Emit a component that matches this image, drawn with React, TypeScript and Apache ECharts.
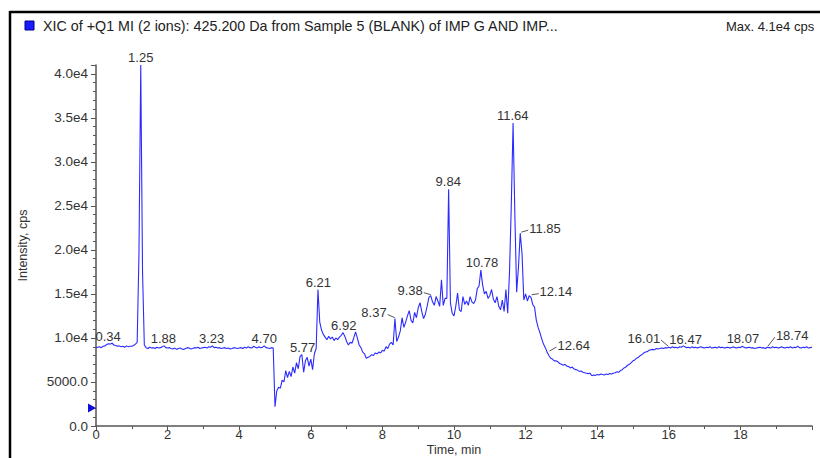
import React, { useEffect, useRef } from "react";
import * as echarts from "echarts";

// ---------------- data ----------------
const TITLE_TEXT = "XIC of +Q1 MI (2 ions): 425.200 Da from Sample 5 (BLANK) of IMP G AND IMP...";
const MAX_TEXT = "Max. 4.1e4 cps";
const X_NAME = "Time, min";
const Y_NAME = "Intensity, cps";

const X_MIN = 0;
const X_MAX = 20;
const X_INTERVAL = 2;
const Y_MIN = 0;
const Y_MAX = 41000;
const Y_INTERVAL = 5000;

// sampling of the trace (minutes)
const SAMPLE_STEP = 0.05;

// intensity (cps) every 0.05 min, one row per minute
const INTENSITY: number[] = [
  // 0
  8900, 8950, 9000, 8900, 9050, 9100, 9250, 9350, 9300, 9400, 9200, 9150, 9050, 9100, 9000, 9050, 8950, 9100, 9000, 9050,
  // 1
  9050, 9150, 9300, 9500, 19500, 41000, 17500, 9200, 8900, 8800, 8950, 8850, 8900, 8800, 8950, 8850, 8900, 9000, 9100, 8900,
  // 2
  8850, 8900, 8800, 8750, 8850, 8700, 8800, 8850, 8750, 8700, 8800, 8900, 8850, 8750, 8800, 8900, 8850, 8950, 8800, 8850,
  // 3
  8900, 8950, 8850, 9000, 8950, 9100, 8900, 8950, 8850, 8900, 8800, 8850, 8900, 8800, 8850, 8750, 8800, 8900, 8850, 8800,
  // 4
  8850, 8900, 8800, 8950, 8850, 9000, 8900, 8850, 9050, 8950, 8850, 9000, 8900, 8950, 9100, 8900, 8850, 8800, 8900, 8850,
  // 5
  2200, 4000, 4400, 4300, 5200, 5000, 6300, 5500, 6200, 5600, 6700, 6000, 7200, 6500, 7900, 8100, 6100, 7400, 7800, 6800,
  // 6
  7600, 6400, 8200, 8800, 15500, 11800, 10900, 10400, 10100, 9800, 10200, 9900, 10100, 9700, 10000, 9800, 10100, 10300, 10600, 10200,
  // 7
  9600, 9200, 9500, 9400, 10000, 10700, 10000, 9200, 8900, 8400, 8200, 7700, 7800, 7900, 8100, 8000, 8300, 8200, 8400, 8300,
  // 8
  8600, 8500, 9000, 8800, 9300, 9500, 9200, 12200, 9600, 10100, 10800, 12300, 11200, 11800, 12500, 13100, 12000, 11700, 12900, 12300,
  // 9
  13400, 14000, 13000, 12200, 12700, 13600, 14600, 14800, 14100, 13700, 14700, 14200, 13600, 16600, 13700, 14500, 14500, 26900, 14000, 12800,
  // 10
  12500, 13600, 15100, 13200, 13000, 14700, 13800, 14200, 13700, 14700, 14100, 13900, 14300, 15600, 15900, 17700, 16000, 15000, 15300, 14500,
  // 11
  14800, 15500, 14400, 14000, 14700, 13600, 13200, 14300, 13000, 15500, 12800, 17400, 25000, 34400, 24000, 15200, 18000, 21900, 19600, 14300,
  // 12
  15000, 14200, 14800, 14600, 13800, 13500, 12000, 11200, 10600, 9900, 9300, 8900, 8400, 8000, 7700, 7600, 7400, 7400, 7300, 7100,
  // 13
  7000, 6900, 7000, 6800, 6750, 6600, 6700, 6500, 6400, 6350, 6200, 6250, 6100, 6050, 6000, 5950, 6000, 5700, 5800, 5750,
  // 14
  5850, 5800, 5900, 5850, 5800, 5900, 5850, 5950, 5900, 6000, 6050, 6150, 6100, 6300, 6400, 6600, 6700, 6900, 7000, 7200,
  // 15
  7400, 7500, 7700, 7800, 8000, 8100, 8300, 8400, 8450, 8600, 8650, 8700, 8650, 8800, 8750, 8800, 8850, 8800, 8900, 8850,
  // 16
  8950, 8850, 9000, 8900, 8950, 8850, 9000, 8950, 9100, 9000, 8900, 8950, 8850, 9000, 8900, 8950, 8850, 8950, 9000, 8900,
  // 17
  8850, 8950, 8900, 9000, 8850, 8900, 8950, 8850, 9000, 8900, 8950, 8850, 8900, 8950, 8850, 8900, 9000, 8900, 8850, 8950,
  // 18
  8900, 9050, 8950, 8850, 8900, 8950, 8850, 8900, 8800, 8850, 8900, 8950, 8850, 8900, 8800, 8950, 8900, 8850, 9000, 8900,
  // 19
  8950, 8850, 8900, 9000, 8900, 8850, 8950, 8900, 9000, 8850, 8950, 8900, 9050, 8900, 8850, 8950, 8900, 9000, 8850, 8900,
  // 20
  8950,
];

// labelled peak apexes (min)
const PEAK_TIMES: number[] = [
  0.34, 1.25, 1.88, 3.23, 4.7, 5.77, 6.21, 6.92, 8.37, 9.38, 9.84, 10.78, 11.64, 11.85, 12.14, 12.64, 16.01, 16.47, 18.07, 18.74,
];
const PEAK_LABELS: string[] = [
  "0.34", "1.25", "1.88", "3.23", "4.70", "5.77", "6.21", "6.92", "8.37", "9.38", "9.84", "10.78", "11.64", "11.85", "12.14", "12.64", "16.01", "16.47", "18.07", "18.74",
];

// level of the small marker on the intensity axis
const MARKER_LEVEL = 2050;

// ---------------- styles ----------------
const FONT_FAMILY = '"Liberation Sans", Arial, Helvetica, sans-serif';
const TRACE_COLOR = "#2b2bff";
const TEXT_COLOR = "#333333";
const AXIS_COLOR = "#555555";

type Placement = { side: "top" | "left" | "right"; dy: number };
const LABEL_PLACEMENT: Record<string, Placement> = {
  "8.37": { side: "left", dy: -6 },
  "9.38": { side: "left", dy: -5 },
  "11.85": { side: "right", dy: -5 },
  "12.14": { side: "right", dy: -4 },
  "12.64": { side: "right", dy: -7 },
  "16.01": { side: "left", dy: -9 },
  "18.74": { side: "right", dy: -12 },
};

function formatIntensity(v: number): string {
  if (v % Y_INTERVAL !== 0) return "";
  if (v === 0) return "0.0";
  if (v < 10000) return v.toFixed(1);
  return (v / 10000).toFixed(1) + "e4";
}

export default function App() {
  const ref = useRef<HTMLDivElement>(null);

  useEffect(() => {
    if (!ref.current) return;
    const chart = echarts.init(ref.current, undefined, { renderer: "svg" });

    const trace = INTENSITY.map((v, i) => [Number((i * SAMPLE_STEP).toFixed(2)), v]);
    const apex = PEAK_TIMES.map((t, i) => {
      let best = 0;
      trace.forEach(([tt, v]) => {
        if (Math.abs(tt - t) < SAMPLE_STEP && v > best) best = v;
      });
      return [t, best, i];
    });

    const labelFont = `13px ${FONT_FAMILY}`;

    chart.setOption({
      animation: false,
      backgroundColor: "#ffffff",
      textStyle: { fontFamily: FONT_FAMILY },
      grid: { left: 96, right: 8, top: 65, bottom: 32, containLabel: false, outerBoundsMode: "none" },
      xAxis: {
        type: "value",
        min: X_MIN,
        max: X_MAX,
        interval: X_INTERVAL,
        name: X_NAME,
        nameLocation: "middle",
        nameGap: 17,
        nameMoveOverlap: false,
        nameTextStyle: { fontSize: 12.5, color: TEXT_COLOR, fontFamily: FONT_FAMILY },
        axisLine: { show: true, onZero: false, lineStyle: { color: AXIS_COLOR, width: 1.5 } },
        axisTick: { show: true, length: 4, lineStyle: { color: AXIS_COLOR } },
        minorTick: { show: true, splitNumber: 2, length: 3, lineStyle: { color: AXIS_COLOR } },
        axisLabel: { margin: 2, fontSize: 13, color: TEXT_COLOR, fontFamily: FONT_FAMILY, showMaxLabel: false },
        splitLine: { show: false },
      },
      yAxis: {
        type: "value",
        min: Y_MIN,
        max: Y_MAX,
        interval: Y_INTERVAL,
        name: Y_NAME,
        nameLocation: "middle",
        nameGap: 67,
        nameMoveOverlap: false,
        nameTextStyle: { fontSize: 12.5, color: TEXT_COLOR, fontFamily: FONT_FAMILY },
        axisLine: { show: true, onZero: false, lineStyle: { color: AXIS_COLOR, width: 1.5 } },
        axisTick: { show: true, length: 5, lineStyle: { color: AXIS_COLOR } },
        minorTick: { show: true, splitNumber: 5, length: 3, lineStyle: { color: AXIS_COLOR } },
        axisLabel: {
          margin: 8,
          fontSize: 13.5,
          color: TEXT_COLOR,
          fontFamily: FONT_FAMILY,
          showMaxLabel: false,
          formatter: (v: number) => formatIntensity(v),
        },
        splitLine: { show: false },
      },
      series: [
        {
          type: "line",
          data: trace,
          showSymbol: false,
          symbol: "none",
          lineStyle: { color: TRACE_COLOR, width: 1.1 },
          itemStyle: { color: TRACE_COLOR },
          clip: true,
          markPoint: {
            silent: true,
            symbol: "triangle",
            symbolRotate: -90,
            symbolSize: [9, 8],
            symbolOffset: [-4, 0],
            itemStyle: { color: "#1010d0" },
            label: { show: false },
            data: [{ coord: [X_MIN, MARKER_LEVEL] }],
          },
        },
        {
          type: "custom",
          coordinateSystem: "cartesian2d",
          silent: true,
          clip: false,
          data: apex,
          encode: { x: 0, y: 1 },
          renderItem: (params: any, api: any) => {
            const idx = params.dataIndex;
            const p = api.coord([api.value(0), api.value(1)]);
            const text = PEAK_LABELS[idx];
            const place = LABEL_PLACEMENT[text] ?? { side: "top", dy: 0 };
            const children: any[] = [];
            if (place.side === "top") {
              children.push({
                type: "text",
                x: p[0],
                y: p[1] - 1,
                style: {
                  text,
                  font: labelFont,
                  fill: TEXT_COLOR,
                  align: "center",
                  verticalAlign: "bottom",
                  textAlign: "center",
                  textVerticalAlign: "bottom",
                },
              });
            } else {
              const dir = place.side === "right" ? 1 : -1;
              const tx = p[0] + dir * 9;
              const ty = p[1] + place.dy;
              children.push({
                type: "line",
                shape: { x1: p[0] + dir * 1, y1: p[1] - 1, x2: tx - dir * 1, y2: ty + 2 },
                style: { stroke: AXIS_COLOR, lineWidth: 1 },
              });
              children.push({
                type: "text",
                x: tx,
                y: ty,
                style: {
                  text,
                  font: labelFont,
                  fill: TEXT_COLOR,
                  align: dir > 0 ? "left" : "right",
                  verticalAlign: "middle",
                  textAlign: dir > 0 ? "left" : "right",
                  textVerticalAlign: "middle",
                },
              });
            }
            return { type: "group", children };
          },
        },
      ],
      graphic: [
        {
          type: "line",
          silent: true,
          shape: { x1: 10, y1: 12, x2: 820, y2: 12 },
          style: { stroke: "#000000", lineWidth: 2.5 },
        },
        {
          type: "line",
          silent: true,
          shape: { x1: 10, y1: 11, x2: 10, y2: 458 },
          style: { stroke: "#000000", lineWidth: 2.5 },
        },
        {
          type: "rect",
          silent: true,
          shape: { x: 25, y: 21, width: 9, height: 9 },
          style: { fill: "#1a1aff", stroke: "#000088", lineWidth: 1 },
        },
        {
          type: "text",
          silent: true,
          x: 43,
          y: 26,
          style: {
            text: TITLE_TEXT,
            font: `14.3px ${FONT_FAMILY}`,
            fill: "#222222",
            textAlign: "left",
            textVerticalAlign: "middle",
            align: "left",
            verticalAlign: "middle",
          },
        },
        {
          type: "text",
          silent: true,
          x: 726,
          y: 26,
          style: {
            text: MAX_TEXT,
            font: `13px ${FONT_FAMILY}`,
            fill: "#222222",
            textAlign: "left",
            textVerticalAlign: "middle",
            align: "left",
            verticalAlign: "middle",
          },
        },
      ],
    });

    return () => {
      chart.dispose();
    };
  }, []);

  return (
    <div
      ref={ref}
      style={{ position: "fixed", left: 0, top: 0, width: 820, height: 458, background: "#fff" }}
    />
  );
}
